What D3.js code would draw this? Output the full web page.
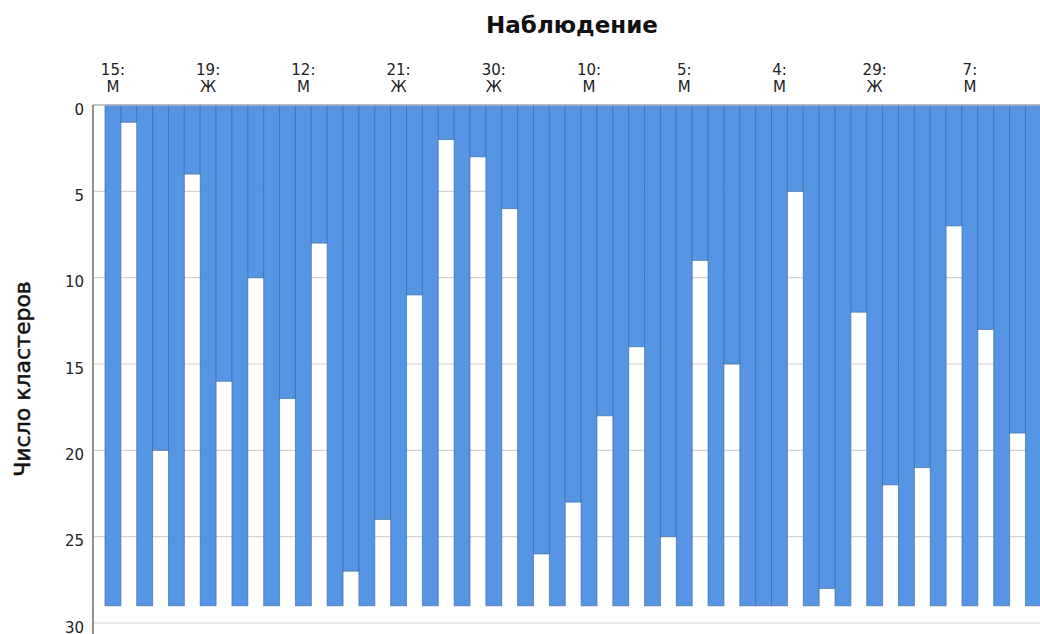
<!DOCTYPE html>
<html>
<head>
<meta charset="utf-8">
<script src="https://cdn.jsdelivr.net/npm/d3@7"></script>
<style>
  html, body { margin: 0; padding: 0; background: #fff; }
  svg { display: block; font-family: "DejaVu Sans", Verdana, sans-serif; }
</style>
</head>
<body>
<svg id="chart" width="1040" height="634"></svg>
<script>
// Icicle plot: 30 observations, 29 joins between neighbours.
const nCases = 30;
const maxClusters = 29;
// number of clusters at which case i and case i+1 get joined (gap column fill depth)
const joinLevels = [1, 20, 4, 16, 10, 17, 8, 27, 24, 11, 2, 3, 6, 26, 23,
                    18, 14, 25, 9, 15, 29, 5, 28, 12, 22, 21, 7, 13, 19];
// only every third observation is labelled on the top axis
const labelIds = ['15', '19', '12', '21', '30', '10', '5', '4', '29', '7'];
const labelSex = ['М', 'Ж', 'М', 'Ж', 'Ж', 'М', 'М', 'М', 'Ж', 'М'];
const yTicks = [0, 5, 10, 15, 20, 25, 30];

const svg = d3.select('#chart');
const colW = 15.87;
const nCols = nCases * 2 - 1;
const plotLeft = 93;

const x = d3.scaleBand()
  .domain(d3.range(nCols))
  .range([105, 105 + nCols * colW])
  .paddingInner(0);

const y = d3.scaleLinear().domain([0, 30]).range([105, 623]);

// grid
svg.append('g')
  .selectAll('line')
  .data(yTicks.filter(t => t > 0))
  .join('line')
    .attr('x1', plotLeft).attr('x2', 1060)
    .attr('y1', d => y(d)).attr('y2', d => y(d))
    .attr('stroke', '#d4d4d4')
    .attr('stroke-width', 1.2);

// columns: even index = case, odd index = gap between neighbours
const cols = d3.range(nCols).map(i => ({
  i,
  depth: i % 2 === 0 ? maxClusters : joinLevels[(i - 1) / 2]
}));

svg.append('g')
  .selectAll('rect')
  .data(cols)
  .join('rect')
    .attr('x', d => x(d.i))
    .attr('y', y(0))
    .attr('width', x.bandwidth())
    .attr('height', d => y(d.depth) - y(0))
    .attr('fill', '#5695e4')
    .attr('stroke', '#3d679f')
    .attr('stroke-opacity', 0.65)
    .attr('stroke-width', 1);

// top border line at 0
svg.append('line')
  .attr('x1', plotLeft).attr('x2', 1060)
  .attr('y1', y(0)).attr('y2', y(0))
  .attr('stroke', '#b5b5b5')
  .attr('stroke-width', 1.5);

// y axis
const yAxis = svg.append('g')
  .attr('transform', `translate(${plotLeft},0)`)
  .call(d3.axisLeft(y).tickValues(yTicks).tickSize(0).tickPadding(9));
yAxis.select('.domain').remove();
yAxis.selectAll('text')
  .attr('font-size', 15)
  .attr('font-family', '"DejaVu Sans", Verdana, sans-serif')
  .attr('fill', '#222')
  .attr('dy', '0.62em');

svg.append('line')
  .attr('x1', plotLeft).attr('x2', plotLeft)
  .attr('y1', y(0)).attr('y2', 640)
  .attr('stroke', '#555')
  .attr('stroke-width', 1.3);

// top labels
const caseX = k => x(k * 2) + x.bandwidth() / 2;
const lab = svg.append('g')
  .selectAll('g')
  .data(labelIds.map((id, j) => ({ id, sex: labelSex[j], k: j * 3 })))
  .join('text')
    .attr('text-anchor', 'middle')
    .attr('font-size', 15)
    .attr('fill', '#222');
lab.append('tspan').attr('x', d => caseX(d.k)).attr('y', 75).text(d => d.id + ':');
lab.append('tspan').attr('x', d => caseX(d.k)).attr('y', 92).text(d => d.sex);

// titles
svg.append('text')
  .attr('x', 572).attr('y', 33)
  .attr('text-anchor', 'middle')
  .attr('font-size', 23)
  .attr('font-weight', 'bold')
  .attr('fill', '#111')
  .text('Наблюдение');

svg.append('text')
  .attr('transform', 'translate(30,379) rotate(-90)')
  .attr('text-anchor', 'middle')
  .attr('font-size', 22)
  .attr('fill', '#111')
  .attr('stroke', '#111')
  .attr('stroke-width', 0.5)
  .text('Число кластеров');
</script>
</body>
</html>
